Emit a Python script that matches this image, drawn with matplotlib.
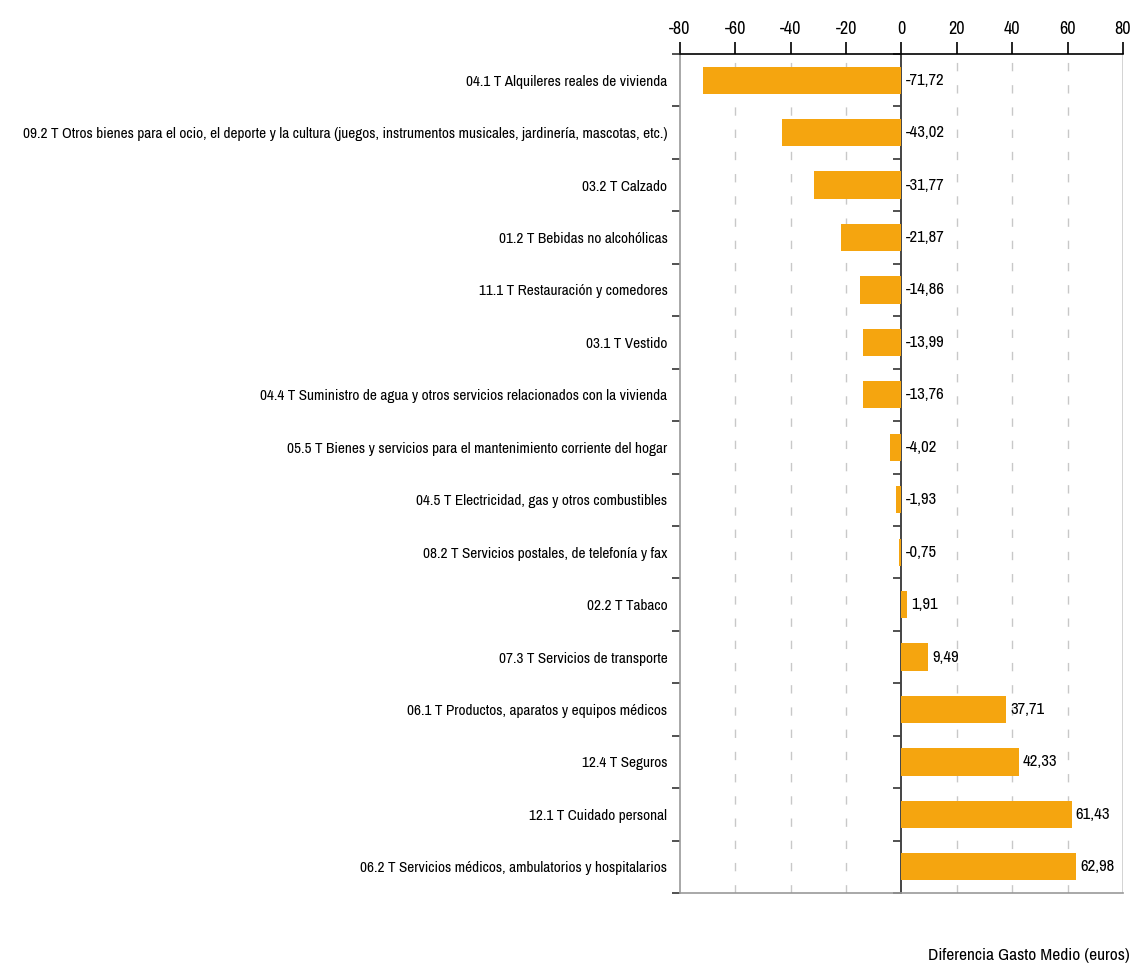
import matplotlib.pyplot as plt
import numpy as np

# Categories (top to bottom) and values
categories = [
    "04.1 T Alquileres reales de vivienda",
    "09.2 T Otros bienes para el ocio, el deporte y la cultura (juegos, instrumentos musicales, jardinería, mascotas, etc.)",
    "03.2 T Calzado",
    "01.2 T Bebidas no alcohólicas",
    "11.1 T Restauración y comedores",
    "03.1 T Vestido",
    "04.4 T Suministro de agua y otros servicios relacionados con la vivienda",
    "05.5 T Bienes y servicios para el mantenimiento corriente del hogar",
    "04.5 T Electricidad, gas y otros combustibles",
    "08.2 T Servicios postales, de telefonía y fax",
    "02.2 T Tabaco",
    "07.3 T Servicios de transporte",
    "06.1 T Productos, aparatos y equipos médicos",
    "12.4 T Seguros",
    "12.1 T Cuidado personal",
    "06.2 T Servicios médicos, ambulatorios y hospitalarios",
]
values = [-71.72, -43.02, -31.77, -21.87, -14.86, -13.99, -13.76, -4.02,
          -1.93, -0.75, 1.91, 9.49, 37.71, 42.33, 61.43, 62.98]
x_ticks = [-80, -60, -40, -20, 0, 20, 40, 60, 80]

plt.rcParams['font.family'] = ['Archivo Narrow', 'Roboto Condensed', 'DejaVu Sans']

fig = plt.figure(figsize=(11.32, 9.73), dpi=100)
ax = fig.add_axes([0.6007, 0.0822, 0.3913, 0.8623])

y = np.arange(len(categories))
ax.barh(y, values, height=0.52, color='#F5A50F', zorder=3)

ax.set_xlim(-80, 80)
ax.set_ylim(len(categories) - 0.5, -0.5)

# x axis on top
ax.xaxis.set_ticks_position('top')
ax.set_xticks(x_ticks)
ax.set_xticklabels([str(t) for t in x_ticks])
ax.tick_params(axis='x', direction='out', length=9, width=1.2, colors='black',
               labelsize=13, pad=3)

# dashed grid
for t in x_ticks[1:-1]:
    if t != 0:
        ax.axvline(t, color='#c8c8c8', linestyle=(0, (6, 10)), linewidth=1, zorder=1)

# y labels at centers, tick marks at boundaries
ax.set_yticks(y)
ax.set_yticklabels(categories)
ax.set_yticks(np.arange(len(categories) + 1) - 0.5, minor=True)
ax.tick_params(axis='y', which='major', length=0, labelsize=11, pad=9)
ax.tick_params(axis='y', which='minor', length=6, width=1.2, color='#333333',
               direction='out', left=True, right=False)

# right spine becomes the zero line
ax.spines['right'].set_position(('data', 0))
ax.spines['right'].set_color('#444444')
ax.spines['right'].set_linewidth(1.4)
ax.spines['right'].set_zorder(2)
ax.axvline(80, color='#cccccc', linewidth=1.2, zorder=1)
ax.spines['left'].set_color('#999999')
ax.spines['left'].set_linewidth(1.2)
ax.spines['bottom'].set_color('#999999')
ax.spines['bottom'].set_linewidth(1.2)
ax.spines['top'].set_color('black')
ax.spines['top'].set_linewidth(1.2)

# tick marks on zero line pointing left
for tick in ax.yaxis.get_minor_ticks():
    tick.tick2line.set_visible(True)
    tick.tick2line.set_marker(0)
    tick.tick2line.set_markersize(6)

# value labels
for yi, v in zip(y, values):
    xpos = max(v, 0)
    ax.annotate(f"{v:.2f}".replace('.', ','), xy=(xpos, yi), xytext=(3, 0),
                textcoords='offset points', va='center', ha='left', fontsize=12)

fig.text(0.998, 0.0105, "Diferencia Gasto Medio (euros)", ha='right', va='bottom',
         fontsize=12.5)

fig.savefig("out.png", dpi=100)
